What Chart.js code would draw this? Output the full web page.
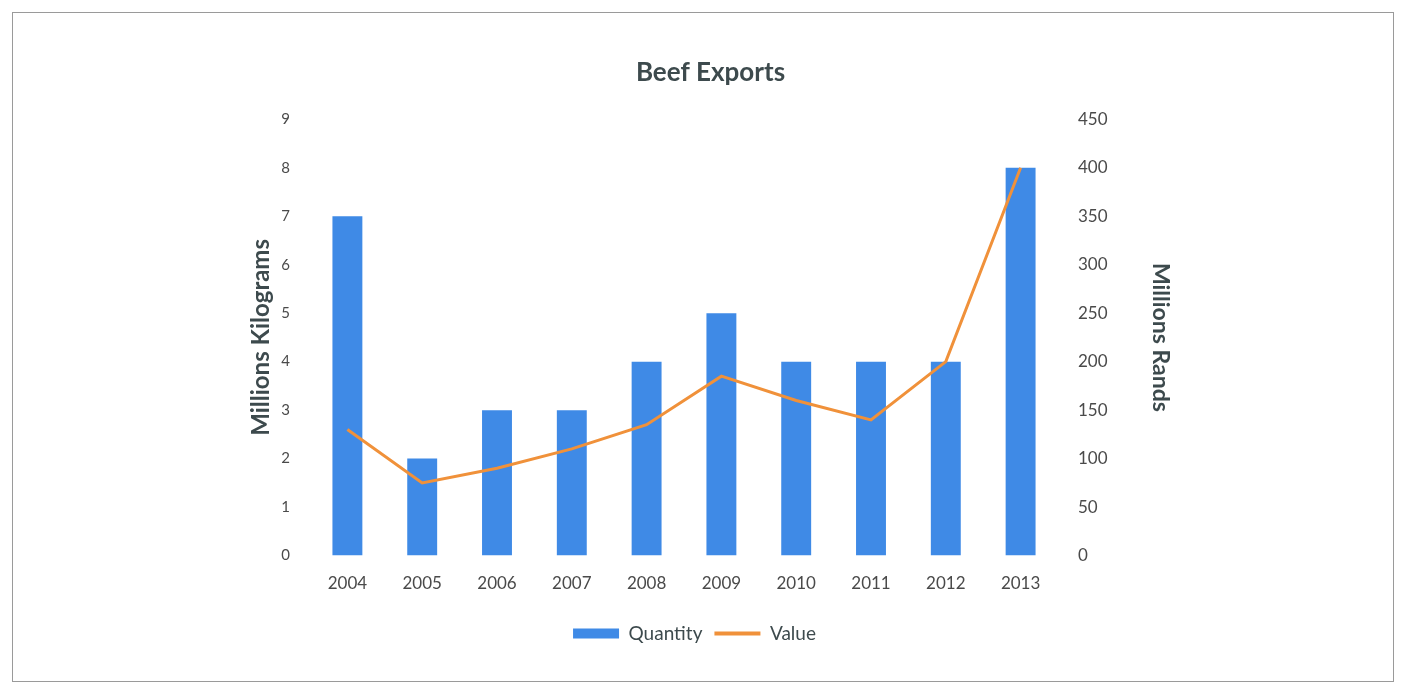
<!DOCTYPE html>
<html>
<head>
<meta charset="utf-8">
<script src="https://cdn.jsdelivr.net/npm/chart.js@4/dist/chart.umd.min.js"></script>
<style>
html,body{margin:0;padding:0;background:#fff;}
#wrap{position:absolute;left:0;top:0;width:1409px;height:689px;}
#frame{position:absolute;left:12px;top:12px;width:1382px;height:670px;border:1px solid #9a9a9a;box-sizing:border-box;}
</style>
</head>
<body>
<div id="wrap"><div id="frame"></div><canvas id="c" width="1409" height="689"></canvas></div>
<script>
const categories = ["2004","2005","2006","2007","2008","2009","2010","2011","2012","2013"];
const quantity = [7, 2, 3, 3, 4, 5, 4, 4, 4, 8];
const value = [130, 75, 90, 110, 135, 185, 160, 140, 200, 400];
const titleText = "Beef Exports";
const leftTitle = "Millions Kilograms";
const rightTitle = "Millions Rands";

const FONT = "Lato, 'Open Sans', 'DejaVu Sans', sans-serif";
const TXT = "#3d4a4d";
const TICK = "#4a4a4a";

const shiftLegend = {
  id:'shiftLegend',
  afterLayout(chart){ if(chart.legend){ chart.legend.left -= 16; chart.legend.right -= 16; } }
};

new Chart(document.getElementById('c'), {
  data: {
    labels: categories,
    datasets: [
      {type:'bar', label:'Quantity', data: quantity, yAxisID:'y', backgroundColor:'#3f8ae6', order:2,
       categoryPercentage:1, barPercentage:0.4},
      {type:'line', label:'Value', data: value, yAxisID:'y1', borderColor:'#f0913a', backgroundColor:'#f0913a',
       borderWidth:3, pointRadius:0, tension:0, order:1}
    ]
  },
  plugins:[shiftLegend],
  options: {
    responsive:false, animation:false,
    layout:{padding:{top:57, left:247, right:235, bottom:36}},
    plugins:{
      title:{display:true, text:titleText, color:TXT, font:{family:FONT, size:26, weight:'bold'}, padding:{top:0,bottom:31}},
      legend:{position:'bottom', labels:{
        usePointStyle:true, pointStyleWidth:46, boxHeight:10, color:TXT, padding:12,
        font:{family:FONT, size:19},
        generateLabels(chart){
          const items = Chart.defaults.plugins.legend.labels.generateLabels(chart);
          items.sort((a,b)=>a.datasetIndex-b.datasetIndex);
          items.forEach(it=>{ it.pointStyle = it.datasetIndex===0 ? 'rect' : 'line'; if(it.datasetIndex===1){it.lineWidth=4;} });
          return items;
        }
      }},
      tooltip:{enabled:false}
    },
    scales:{
      x:{grid:{display:false, drawTicks:false}, border:{display:false},
         ticks:{color:TICK, padding:18, font:{family:FONT, size:17}}},
      y:{position:'left', min:0, max:9, grid:{display:false, drawTicks:false}, border:{display:false},
         afterFit(s){ s.width = 63; },
         ticks:{stepSize:1, color:TICK, padding:20, font:{family:FONT, size:15}},
         title:{display:true, text:leftTitle, color:TXT, font:{family:FONT, size:24, weight:'bold'}, padding:{top:0,bottom:5}}},
      y1:{position:'right', min:0, max:450, grid:{display:false, drawTicks:false}, border:{display:false},
         afterFit(s){ s.width = 116; },
         ticks:{stepSize:50, color:TICK, padding:20, font:{family:FONT, size:17}},
         title:{display:true, text:rightTitle, color:TXT, font:{family:FONT, size:23, weight:'bold'}, padding:{top:0,bottom:0}}}
    }
  }
});
</script>
</body>
</html>
